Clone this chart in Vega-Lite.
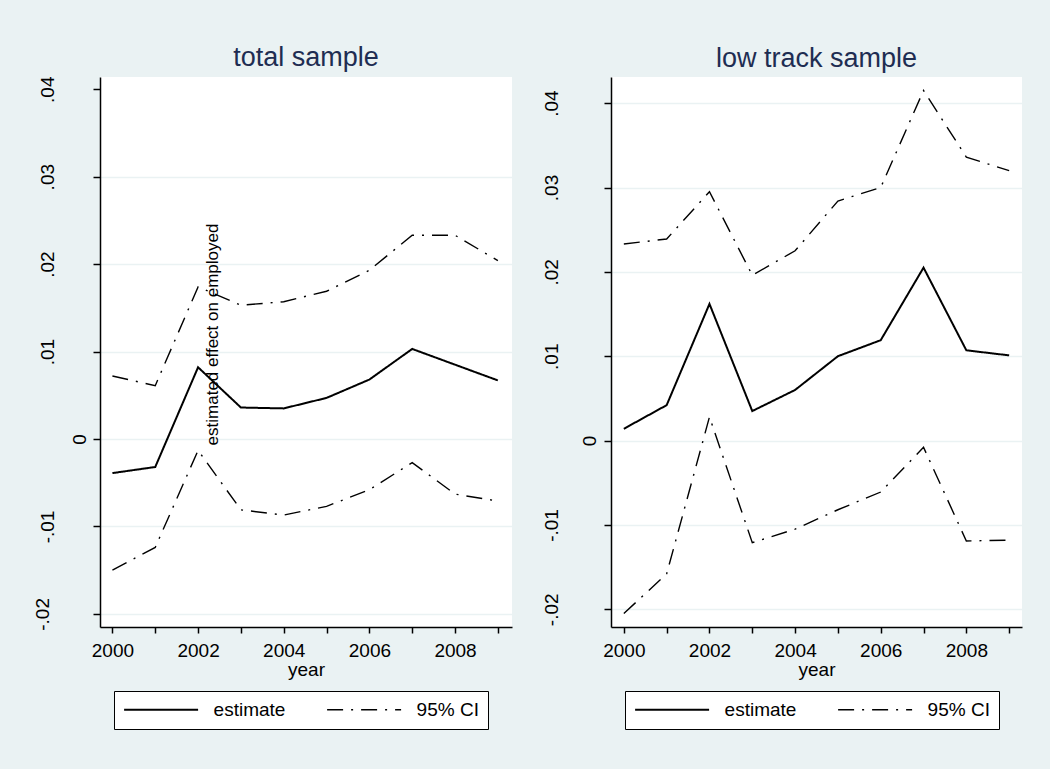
{
  "$schema": "https://vega.github.io/schema/vega-lite/v6.json",
  "autosize": "none",
  "padding": {"left": 100, "top": 77, "right": 950, "bottom": 692},
  "background": "#eaf2f3",
  "bounds": "flush",
  "spacing": 99,
  "config": {
    "font": "Liberation Sans",
    "view": {"fill": "white", "stroke": null},
    "axis": {
      "labelFont": "Liberation Sans",
      "labelFontSize": 19,
      "labelColor": "black",
      "titleFont": "Liberation Sans",
      "titleFontSize": 19,
      "titleFontWeight": "normal",
      "titleColor": "black",
      "domainColor": "black",
      "domainWidth": 1.5,
      "tickColor": "black",
      "tickWidth": 1.5,
      "grid": false
    },
    "legend": {
      "orient": "none",
      "legendX": 14,
      "legendY": 614,
      "direction": "horizontal",
      "symbolType": "M-5,0H5",
      "symbolSize": 219,
      "symbolOffset": 28.6,
      "symbolStrokeColor": "black",
      "labelFont": "Liberation Sans",
      "labelFontSize": 19,
      "labelColor": "black",
      "labelOffset": 43,
      "labelLimit": 0,
      "columnPadding": 38,
      "padding": 9,
      "fillColor": "white",
      "strokeColor": "black",
      "strokeWidth": 1
    },
    "title": {
      "font": "Liberation Sans",
      "fontSize": 27,
      "fontWeight": "normal",
      "color": "#1e2d52",
      "baseline": "alphabetic",
      "offset": 4,
      "anchor": "middle",
      "frame": "group"
    }
  },
  "datasets": {
    "total": [
      {"year": 2000, "series": "estimate", "line": "est", "value": -0.0039},
      {"year": 2001, "series": "estimate", "line": "est", "value": -0.0032},
      {"year": 2002, "series": "estimate", "line": "est", "value": 0.0082},
      {"year": 2003, "series": "estimate", "line": "est", "value": 0.0036},
      {"year": 2004, "series": "estimate", "line": "est", "value": 0.0035},
      {"year": 2005, "series": "estimate", "line": "est", "value": 0.0047},
      {"year": 2006, "series": "estimate", "line": "est", "value": 0.0068},
      {"year": 2007, "series": "estimate", "line": "est", "value": 0.0103},
      {"year": 2008, "series": "estimate", "line": "est", "value": 0.0085},
      {"year": 2009, "series": "estimate", "line": "est", "value": 0.0067},
      {"year": 2000, "series": "95% CI", "line": "hi", "value": 0.0072},
      {"year": 2001, "series": "95% CI", "line": "hi", "value": 0.0061},
      {"year": 2002, "series": "95% CI", "line": "hi", "value": 0.0174},
      {"year": 2003, "series": "95% CI", "line": "hi", "value": 0.0153},
      {"year": 2004, "series": "95% CI", "line": "hi", "value": 0.0157},
      {"year": 2005, "series": "95% CI", "line": "hi", "value": 0.0169},
      {"year": 2006, "series": "95% CI", "line": "hi", "value": 0.0193},
      {"year": 2007, "series": "95% CI", "line": "hi", "value": 0.0233},
      {"year": 2008, "series": "95% CI", "line": "hi", "value": 0.0233},
      {"year": 2009, "series": "95% CI", "line": "hi", "value": 0.0204},
      {"year": 2000, "series": "95% CI", "line": "lo", "value": -0.0150},
      {"year": 2001, "series": "95% CI", "line": "lo", "value": -0.0124},
      {"year": 2002, "series": "95% CI", "line": "lo", "value": -0.0013},
      {"year": 2003, "series": "95% CI", "line": "lo", "value": -0.0081},
      {"year": 2004, "series": "95% CI", "line": "lo", "value": -0.0087},
      {"year": 2005, "series": "95% CI", "line": "lo", "value": -0.0077},
      {"year": 2006, "series": "95% CI", "line": "lo", "value": -0.0058},
      {"year": 2007, "series": "95% CI", "line": "lo", "value": -0.0027},
      {"year": 2008, "series": "95% CI", "line": "lo", "value": -0.0063},
      {"year": 2009, "series": "95% CI", "line": "lo", "value": -0.0071}
    ],
    "lowtrack": [
      {"year": 2000, "series": "estimate", "line": "est", "value": 0.0014},
      {"year": 2001, "series": "estimate", "line": "est", "value": 0.0042},
      {"year": 2002, "series": "estimate", "line": "est", "value": 0.0162},
      {"year": 2003, "series": "estimate", "line": "est", "value": 0.0035},
      {"year": 2004, "series": "estimate", "line": "est", "value": 0.0060},
      {"year": 2005, "series": "estimate", "line": "est", "value": 0.0100},
      {"year": 2006, "series": "estimate", "line": "est", "value": 0.0119},
      {"year": 2007, "series": "estimate", "line": "est", "value": 0.0205},
      {"year": 2008, "series": "estimate", "line": "est", "value": 0.0107},
      {"year": 2009, "series": "estimate", "line": "est", "value": 0.0101},
      {"year": 2000, "series": "95% CI", "line": "hi", "value": 0.0233},
      {"year": 2001, "series": "95% CI", "line": "hi", "value": 0.0239},
      {"year": 2002, "series": "95% CI", "line": "hi", "value": 0.0295},
      {"year": 2003, "series": "95% CI", "line": "hi", "value": 0.0196},
      {"year": 2004, "series": "95% CI", "line": "hi", "value": 0.0225},
      {"year": 2005, "series": "95% CI", "line": "hi", "value": 0.0284},
      {"year": 2006, "series": "95% CI", "line": "hi", "value": 0.0300},
      {"year": 2007, "series": "95% CI", "line": "hi", "value": 0.0415},
      {"year": 2008, "series": "95% CI", "line": "hi", "value": 0.0336},
      {"year": 2009, "series": "95% CI", "line": "hi", "value": 0.0320},
      {"year": 2000, "series": "95% CI", "line": "lo", "value": -0.0205},
      {"year": 2001, "series": "95% CI", "line": "lo", "value": -0.0158},
      {"year": 2002, "series": "95% CI", "line": "lo", "value": 0.0028},
      {"year": 2003, "series": "95% CI", "line": "lo", "value": -0.0121},
      {"year": 2004, "series": "95% CI", "line": "lo", "value": -0.0105},
      {"year": 2005, "series": "95% CI", "line": "lo", "value": -0.0082},
      {"year": 2006, "series": "95% CI", "line": "lo", "value": -0.0061},
      {"year": 2007, "series": "95% CI", "line": "lo", "value": -0.0008},
      {"year": 2008, "series": "95% CI", "line": "lo", "value": -0.0119},
      {"year": 2009, "series": "95% CI", "line": "lo", "value": -0.0118}
    ]
  },
  "hconcat": [
    {
      "width": 412,
      "height": 550,
      "title": {"text": "total sample"},
      "data": {"name": "total"},
      "mark": {"type": "line", "color": "black", "strokeJoin": "miter"},
      "encoding": {
        "x": {
          "field": "year",
          "type": "quantitative",
          "scale": {"domain": [1999.71, 2009.33], "nice": false, "zero": false},
          "axis": {
            "title": "year",
            "values": [2000, 2001, 2002, 2003, 2004, 2005, 2006, 2007, 2008, 2009],
            "labelExpr": "datum.value % 2 == 0 ? '' + datum.value : ''",
            "tickSize": 6,
            "labelPadding": 8,
            "titleBaseline": "alphabetic",
            "titleY": 48
          }
        },
        "y": {
          "field": "value",
          "type": "quantitative",
          "scale": {"domain": [-0.0215, 0.0414], "nice": false, "zero": false},
          "axis": {
            "values": [-0.02, -0.01, 0, 0.01, 0.02, 0.03, 0.04],
            "labelExpr": "abs(datum.value) < 1e-9 ? '0' : (datum.value < 0 ? '-' : '') + replace(format(abs(datum.value), '.2f'), '0.', '.')",
            "labelAngle": 270,
            "labelAlign": "center",
            "labelBaseline": "alphabetic",
            "tickSize": 7,
            "labelPadding": {
              "condition": [
                {"test": "abs(datum.value) < 1e-9", "value": 8},
                {"test": "datum.value < -0.015", "value": 45}
              ],
              "value": 40
            },
            "grid": true,
            "gridColor": "#eaf2f3",
            "gridWidth": 1.5,
            "gridOpacity": {"condition": {"test": "datum.value > 0.035", "value": 0}, "value": 1},
            "title": "estimated effect on employed",
            "titleAngle": 270,
            "titleAlign": "center",
            "titleBaseline": "alphabetic",
            "titleFontSize": 17,
            "titleX": 117,
            "titleY": 257
          }
        },
        "strokeDash": {
          "field": "series",
          "type": "nominal",
          "scale": {"domain": ["estimate", "95% CI"], "range": [[1, 0], [16, 8, 2, 8]]},
          "legend": {"title": null}
        },
        "strokeWidth": {
          "field": "series",
          "type": "nominal",
          "scale": {"domain": ["estimate", "95% CI"], "range": [2, 1.4]},
          "legend": {"title": null}
        },
        "detail": {"field": "line", "type": "nominal"}
      }
    },
    {
      "width": 411,
      "height": 550,
      "title": {"text": "low track sample"},
      "data": {"name": "lowtrack"},
      "mark": {"type": "line", "color": "black", "strokeJoin": "miter"},
      "encoding": {
        "x": {
          "field": "year",
          "type": "quantitative",
          "scale": {"domain": [1999.7, 2009.3], "nice": false, "zero": false},
          "axis": {
            "title": "year",
            "values": [2000, 2001, 2002, 2003, 2004, 2005, 2006, 2007, 2008, 2009],
            "labelExpr": "datum.value % 2 == 0 ? '' + datum.value : ''",
            "tickSize": 6,
            "labelPadding": 8,
            "titleBaseline": "alphabetic",
            "titleY": 48
          }
        },
        "y": {
          "field": "value",
          "type": "quantitative",
          "scale": {"domain": [-0.0221, 0.0431], "nice": false, "zero": false},
          "axis": {
            "values": [-0.02, -0.01, 0, 0.01, 0.02, 0.03, 0.04],
            "labelExpr": "abs(datum.value) < 1e-9 ? '0' : (datum.value < 0 ? '-' : '') + replace(format(abs(datum.value), '.2f'), '0.', '.')",
            "labelAngle": 270,
            "labelAlign": "center",
            "labelBaseline": "alphabetic",
            "tickSize": 7,
            "labelPadding": {
              "condition": {"test": "abs(datum.value) < 1e-9", "value": 9},
              "value": 47
            },
            "grid": true,
            "gridColor": "#eaf2f3",
            "gridWidth": 1.5,
            "title": null
          }
        },
        "strokeDash": {
          "field": "series",
          "type": "nominal",
          "scale": {"domain": ["estimate", "95% CI"], "range": [[1, 0], [16, 8, 2, 8]]},
          "legend": {"title": null}
        },
        "strokeWidth": {
          "field": "series",
          "type": "nominal",
          "scale": {"domain": ["estimate", "95% CI"], "range": [2, 1.4]},
          "legend": {"title": null}
        },
        "detail": {"field": "line", "type": "nominal"}
      }
    }
  ],
  "resolve": {
    "scale": {"x": "independent", "y": "independent", "strokeDash": "independent", "strokeWidth": "independent"},
    "legend": {"strokeDash": "independent", "strokeWidth": "independent"}
  }
}
